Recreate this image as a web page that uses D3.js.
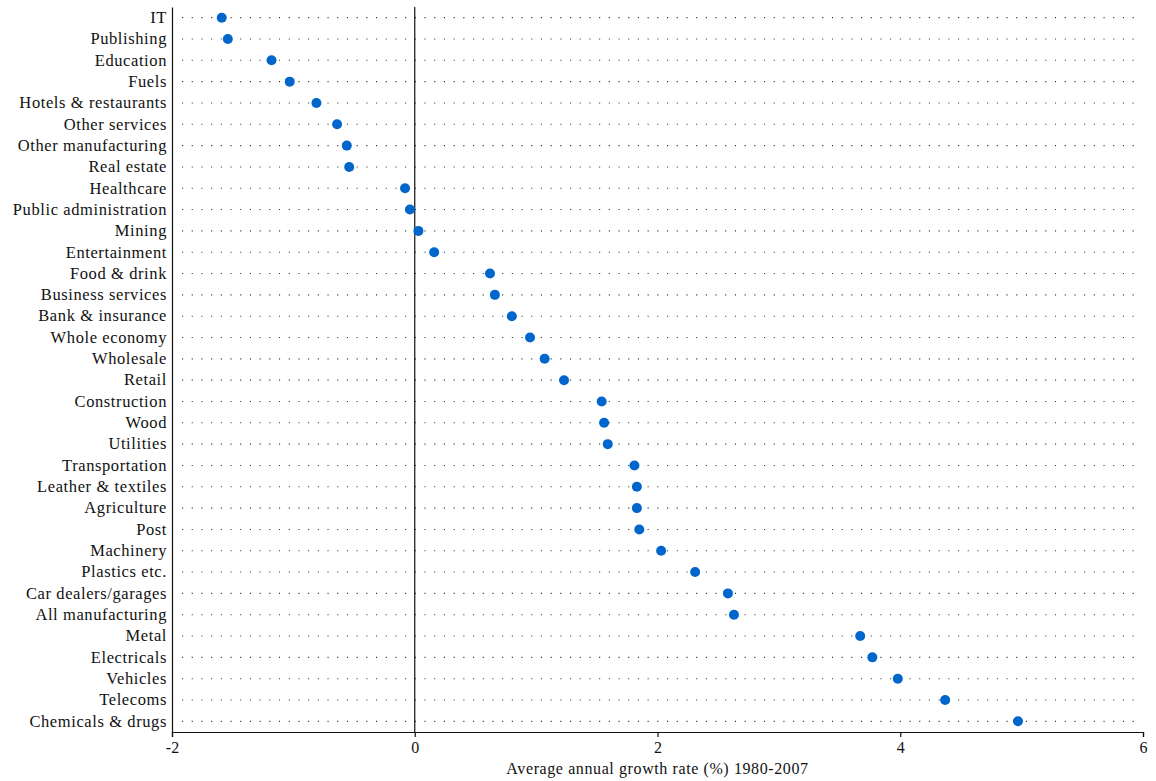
<!DOCTYPE html>
<html>
<head>
<meta charset="utf-8">
<script src="https://cdn.jsdelivr.net/npm/d3@7"></script>
<style>
  body { margin: 0; background: #fff; }
  text { font-family: "Liberation Serif", "Times New Roman", serif; fill: #111; }
</style>
</head>
<body>
<div id="chart"></div>
<script>
var sectors = ["IT", "Publishing", "Education", "Fuels", "Hotels & restaurants",
  "Other services", "Other manufacturing", "Real estate", "Healthcare",
  "Public administration", "Mining", "Entertainment", "Food & drink",
  "Business services", "Bank & insurance", "Whole economy", "Wholesale", "Retail",
  "Construction", "Wood", "Utilities", "Transportation", "Leather & textiles",
  "Agriculture", "Post", "Machinery", "Plastics etc.", "Car dealers/garages",
  "All manufacturing", "Metal", "Electricals", "Vehicles", "Telecoms",
  "Chemicals & drugs"];

var growth = [-1.59, -1.54, -1.18, -1.03, -0.81, -0.64, -0.56, -0.54, -0.08,
  -0.04, 0.03, 0.16, 0.62, 0.66, 0.80, 0.95, 1.07, 1.23, 1.54, 1.56, 1.59,
  1.81, 1.83, 1.83, 1.85, 2.03, 2.31, 2.58, 2.63, 3.67, 3.77, 3.98, 4.37, 4.97];

var xTicks = [-2, 0, 2, 4, 6];
var xTitle = "Average annual growth rate (%) 1980-2007";

var width = 1156,
  height = 781,
  margin = {top: 7, right: 13, bottom: 49, left: 172};

var svg = d3.select("#chart").append("svg")
  .attr("width", width)
  .attr("height", height);

var x = d3.scaleLinear()
  .domain([-2, 6])
  .range([margin.left, width - margin.right]);

var y = d3.scaleBand()
  .domain(sectors)
  .range([margin.top, height - margin.bottom]);

var rows = sectors.map(function(s, i) { return {name: s, value: growth[i]}; });

// dotted row guides
svg.append("g").selectAll("line")
  .data(rows)
  .enter().append("line")
  .attr("x1", x(-2) + 10)
  .attr("x2", x(6) - 9)
  .attr("y1", function(d) { return y(d.name) + y.bandwidth() / 2; })
  .attr("y2", function(d) { return y(d.name) + y.bandwidth() / 2; })
  .attr("stroke", "#333")
  .attr("stroke-width", 1.1)
  .attr("stroke-dasharray", "1.1,8.6");

// zero line
svg.append("line")
  .attr("x1", x(0)).attr("x2", x(0))
  .attr("y1", margin.top).attr("y2", height - margin.bottom)
  .attr("stroke", "#111")
  .attr("stroke-width", 1.2);

// x axis (plain hyphen for negatives, like the original)
var xAxis = svg.append("g")
  .attr("transform", "translate(0," + (height - margin.bottom) + ")")
  .call(d3.axisBottom(x).tickValues(xTicks).tickSize(5).tickPadding(5)
    .tickFormat(function(d) { return String(d); }));
xAxis.select(".domain").attr("stroke", "#111").attr("stroke-width", 1.2);
xAxis.selectAll(".tick line").attr("stroke", "#111").attr("stroke-width", 1.2);
xAxis.selectAll("text")
  .style("font-family", "'Liberation Serif', 'Times New Roman', serif")
  .style("font-size", "16px")
  .attr("fill", "#111");

// y axis
var yAxis = svg.append("g")
  .attr("transform", "translate(" + margin.left + ",0)")
  .call(d3.axisLeft(y).tickSize(0).tickPadding(5));
yAxis.select(".domain").attr("stroke", "#111").attr("stroke-width", 1.2);
yAxis.selectAll("text")
  .style("font-family", "'Liberation Serif', 'Times New Roman', serif")
  .style("font-size", "16.5px")
  .style("letter-spacing", "0.6px")
  .attr("fill", "#111");

// points
svg.append("g").selectAll("circle")
  .data(rows)
  .enter().append("circle")
  .attr("cx", function(d) { return x(d.value); })
  .attr("cy", function(d) { return y(d.name) + y.bandwidth() / 2; })
  .attr("r", 5)
  .attr("fill", "#0066CC");

svg.append("text")
  .attr("x", (x(-2) + x(6)) / 2)
  .attr("y", 774)
  .attr("text-anchor", "middle")
  .style("font-size", "16px")
  .style("letter-spacing", "0.6px")
  .text(xTitle);
</script>
</body>
</html>
